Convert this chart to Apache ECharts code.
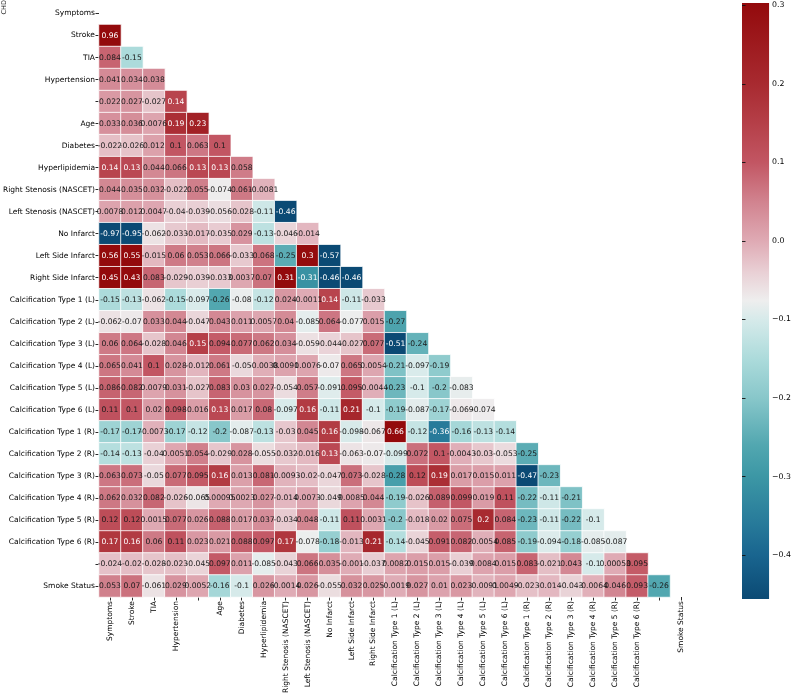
<!DOCTYPE html>
<html>
<head>
<meta charset="utf-8">
<script src="https://cdn.jsdelivr.net/npm/echarts@6/dist/echarts.min.js"></script>
<style>html,body{margin:0;padding:0;background:#fff;}#chart{width:794px;height:696px;}</style>
</head>
<body>
<div id="chart"></div>
<script>
const labels = ['Symptoms','Stroke','TIA','Hypertension','','Age','Diabetes','Hyperlipidemia',
  'Right Stenosis (NASCET)','Left Stenosis (NASCET)','No Infarct','Left Side Infarct','Right Side Infarct',
  'Calcification Type 1 (L)','Calcification Type 2 (L)','Calcification Type 3 (L)','Calcification Type 4 (L)',
  'Calcification Type 5 (L)','Calcification Type 6 (L)','Calcification Type 1 (R)','Calcification Type 2 (R)',
  'Calcification Type 3 (R)','Calcification Type 4 (R)','Calcification Type 5 (R)','Calcification Type 6 (R)',
  '','Smoke Status'];

const rowSymptoms = [];
const rowStroke = [0.96];
const rowTIA = [0.084, -0.15];
const rowHypertension = [0.041, 0.034, 0.038];
const rowBlank1 = [0.022, 0.027, -0.027, 0.14];
const rowAge = [0.033, 0.036, 0.0076, 0.19, 0.23];
const rowDiabetes = [-0.022, -0.026, 0.012, 0.1, 0.063, 0.1];
const rowHyperlipidemia = [0.14, 0.13, 0.044, 0.066, 0.13, 0.13, 0.058];
const rowRightStenosis = [0.044, 0.035, 0.032, -0.022, 0.055, -0.074, 0.061, -0.0081];
const rowLeftStenosis = [0.0078, 0.012, 0.0047, -0.04, -0.039, -0.056, -0.028, -0.11, -0.46];
const rowNoInfarct = [-0.97, -0.95, -0.062, -0.033, -0.017, -0.035, 0.029, -0.13, -0.046, -0.014];
const rowLeftInfarct = [0.56, 0.55, -0.015, 0.06, 0.053, 0.066, -0.033, 0.068, -0.25, 0.3, -0.57];
const rowRightInfarct = [0.45, 0.43, 0.083, -0.029, -0.039, -0.033, 0.0037, 0.07, 0.31, -0.31, -0.46, -0.46];
const rowCalc1L = [-0.15, -0.13, -0.062, -0.15, -0.097, -0.26, -0.08, -0.12, 0.024, -0.0011, 0.14, -0.11, -0.033];
const rowCalc2L = [-0.062, -0.07, 0.033, 0.044, -0.047, 0.043, 0.011, 0.0057, 0.04, -0.085, 0.064, -0.077, 0.015, -0.27];
const rowCalc3L = [0.06, 0.064, -0.028, 0.046, 0.15, 0.094, 0.077, 0.062, 0.034, -0.059, -0.044, -0.027, 0.077, -0.51, -0.24];
const rowCalc4L = [0.065, 0.041, 0.1, 0.028, -0.012, 0.061, -0.05, -0.0038, 0.0091, 0.0076, -0.07, 0.065, 0.0054, -0.21, -0.097, -0.19];
const rowCalc5L = [0.086, 0.082, 0.0079, 0.031, -0.027, 0.083, 0.03, 0.027, -0.054, 0.057, -0.091, 0.095, -0.0044, -0.23, -0.1, -0.2, -0.083];
const rowCalc6L = [0.11, 0.1, 0.02, 0.098, 0.016, 0.13, 0.017, 0.08, -0.097, 0.16, -0.11, 0.21, -0.1, -0.19, -0.087, -0.17, -0.069, -0.074];
const rowCalc1R = [-0.17, -0.17, -0.0073, -0.17, -0.12, -0.2, -0.087, -0.13, -0.03, 0.045, 0.16, -0.098, -0.067, 0.66, -0.12, -0.36, -0.16, -0.13, -0.14];
const rowCalc2R = [-0.14, -0.13, -0.04, 0.0051, 0.054, -0.029, 0.028, -0.055, -0.032, -0.016, 0.13, -0.063, -0.07, -0.099, 0.072, 0.1, -0.0043, -0.03, -0.053, -0.25];
const rowCalc3R = [0.063, 0.073, -0.05, 0.077, 0.095, 0.16, 0.013, 0.081, -0.0093, -0.02, -0.047, 0.073, -0.028, -0.28, 0.12, 0.19, 0.017, 0.015, 0.011, -0.47, -0.23];
const rowCalc4R = [0.062, 0.032, 0.082, -0.026, -0.065, 0.00095, 0.0023, 0.027, -0.014, 0.0073, -0.049, 0.0085, 0.044, -0.19, -0.026, 0.089, 0.099, 0.019, 0.11, -0.22, -0.11, -0.21];
const rowCalc5R = [0.12, 0.12, 0.0015, 0.077, 0.026, 0.088, 0.017, 0.037, -0.034, 0.048, -0.11, 0.11, 0.0031, -0.2, -0.018, 0.02, 0.075, 0.2, 0.084, -0.23, -0.11, -0.22, -0.1];
const rowCalc6R = [0.17, 0.16, 0.06, 0.11, 0.023, 0.021, 0.088, 0.097, 0.17, -0.078, -0.18, -0.013, 0.21, -0.14, -0.045, 0.091, 0.082, -0.0054, 0.085, -0.19, -0.094, -0.18, -0.085, -0.087];
const rowBlank2 = [-0.024, -0.02, -0.028, -0.023, -0.045, 0.097, 0.011, -0.085, -0.043, 0.066, 0.035, -0.001, -0.037, 0.0082, 0.015, 0.015, -0.039, 0.0084, 0.015, 0.083, -0.021, 0.043, -0.1, 0.00053, 0.095];
const rowSmoke = [0.053, 0.07, -0.061, 0.029, 0.0052, -0.16, -0.1, 0.026, -0.0014, 0.026, -0.055, 0.032, 0.025, -0.0019, 0.027, 0.01, 0.023, -0.0091, 0.0049, -0.023, -0.014, -0.043, -0.0064, 0.046, 0.093, -0.26];

const colorbarTicks = [-0.4, -0.3, -0.2, -0.1, 0.0, 0.1, 0.2, 0.3];

const rows = [rowSymptoms, rowStroke, rowTIA, rowHypertension, rowBlank1, rowAge, rowDiabetes, rowHyperlipidemia,
  rowRightStenosis, rowLeftStenosis, rowNoInfarct, rowLeftInfarct, rowRightInfarct,
  rowCalc1L, rowCalc2L, rowCalc3L, rowCalc4L, rowCalc5L, rowCalc6L,
  rowCalc1R, rowCalc2R, rowCalc3R, rowCalc4R, rowCalc5R, rowCalc6R, rowBlank2, rowSmoke];

// colour scale
const vmin = -0.456, vmax = 0.303;
const cmapStops = [
  [-0.456, '#0b4a74'],
  [-0.4, '#19658f'],
  [-0.36, '#277a9a'],
  [-0.3, '#3c97a5'],
  [-0.26, '#52a7b0'],
  [-0.2, '#88c7ca'],
  [-0.15, '#acdbdb'],
  [-0.1, '#d6eaea'],
  [-0.076, '#eeeeee'],
  [-0.04, '#e9d0d5'],
  [0.0, '#dfaab4'],
  [0.05, '#d1838f'],
  [0.1, '#c25663'],
  [0.15, '#b53f48'],
  [0.2, '#a82a30'],
  [0.303, '#930a0c']
];
function hexToRgb(h){return [parseInt(h.substr(1,2),16),parseInt(h.substr(3,2),16),parseInt(h.substr(5,2),16)];}
function colorFor(v){
  v = Math.max(vmin, Math.min(vmax, v));
  for (let i = 0; i < cmapStops.length - 1; i++) {
    const [a, ca] = cmapStops[i], [b, cb] = cmapStops[i+1];
    if (v >= a && v <= b) {
      const t = (v - a) / (b - a);
      const A = hexToRgb(ca), B = hexToRgb(cb);
      const c = A.map((x, k) => Math.round(x + (B[k] - x) * t));
      return 'rgb(' + c.join(',') + ')';
    }
  }
  return cmapStops[cmapStops.length-1][1];
}
function textColorFor(v){
  return (v >= 0.13 || v <= -0.3) ? '#ffffff' : '#1a1a1a';
}

const heatData = [];
rows.forEach((row, r) => {
  row.forEach((v, c) => {
    heatData.push({
      value: [c, r, v],
      itemStyle: { color: colorFor(v) },
      label: { color: textColorFor(v) }
    });
  });
});

const gradStops = cmapStops.map(([v, c]) => ({ offset: (v - vmin) / (vmax - vmin), color: c }));

const FONT = 'DejaVu Sans';
const chart = echarts.init(document.getElementById('chart'), null, { renderer: 'canvas' });
chart.setOption({
  animation: false,
  backgroundColor: '#ffffff',
  grid: [
    { left: 94, top: 2.5, width: 598, height: 596.5, containLabel: false },
    { left: 742, top: 3, width: 30, height: 596, show: true, borderWidth: 0,
      backgroundColor: { type: 'linear', x: 0, y: 1, x2: 0, y2: 0, colorStops: gradStops } }
  ],
  xAxis: [
    { type: 'category', gridIndex: 0, data: labels, position: 'bottom',
      axisLine: { show: false }, splitLine: { show: false },
      axisTick: { show: true, alignWithLabel: true, length: 3.5, lineStyle: { color: '#111', width: 0.9 } },
      axisLabel: { interval: 0, rotate: 90, fontFamily: FONT, fontSize: 7.5, color: '#000', margin: 4 } },
    { type: 'value', gridIndex: 1, show: false, min: 0, max: 1 }
  ],
  yAxis: [
    { type: 'category', gridIndex: 0, data: labels, inverse: true,
      axisLine: { show: false }, splitLine: { show: false },
      axisTick: { show: true, alignWithLabel: true, length: 3.5, lineStyle: { color: '#111', width: 0.9 } },
      axisLabel: { interval: 0, fontFamily: FONT, fontSize: 7.5, color: '#000', margin: 4 } },
    { type: 'value', gridIndex: 1, position: 'right', min: vmin, max: vmax,
      axisLine: { show: false }, splitLine: { show: false },
      axisTick: { show: true, length: 3.5, customValues: colorbarTicks, lineStyle: { color: '#111', width: 0.9 } },
      axisLabel: { customValues: colorbarTicks, fontFamily: FONT, fontSize: 7.8, color: '#000', margin: 3,
        formatter: v => (v < -1e-9 ? '\u2212' : '') + Math.abs(v).toFixed(1) } }
  ],
  graphic: [
    { type: 'text', left: 1, top: 0, rotation: Math.PI / 2,
      style: { text: 'CHD', fontFamily: FONT, fontSize: 6.5, fill: '#222' } }
  ],
  series: [
    { type: 'heatmap', xAxisIndex: 0, yAxisIndex: 0, data: heatData,
      itemStyle: { borderColor: '#ffffff', borderWidth: 0.8 },
      label: { show: true, fontFamily: FONT, fontSize: 7.6,
        formatter: p => String(p.value[2]) },
      emphasis: { disabled: true } },
    { type: 'scatter', xAxisIndex: 1, yAxisIndex: 1, data: [], silent: true }
  ]
});
</script>
</body>
</html>
